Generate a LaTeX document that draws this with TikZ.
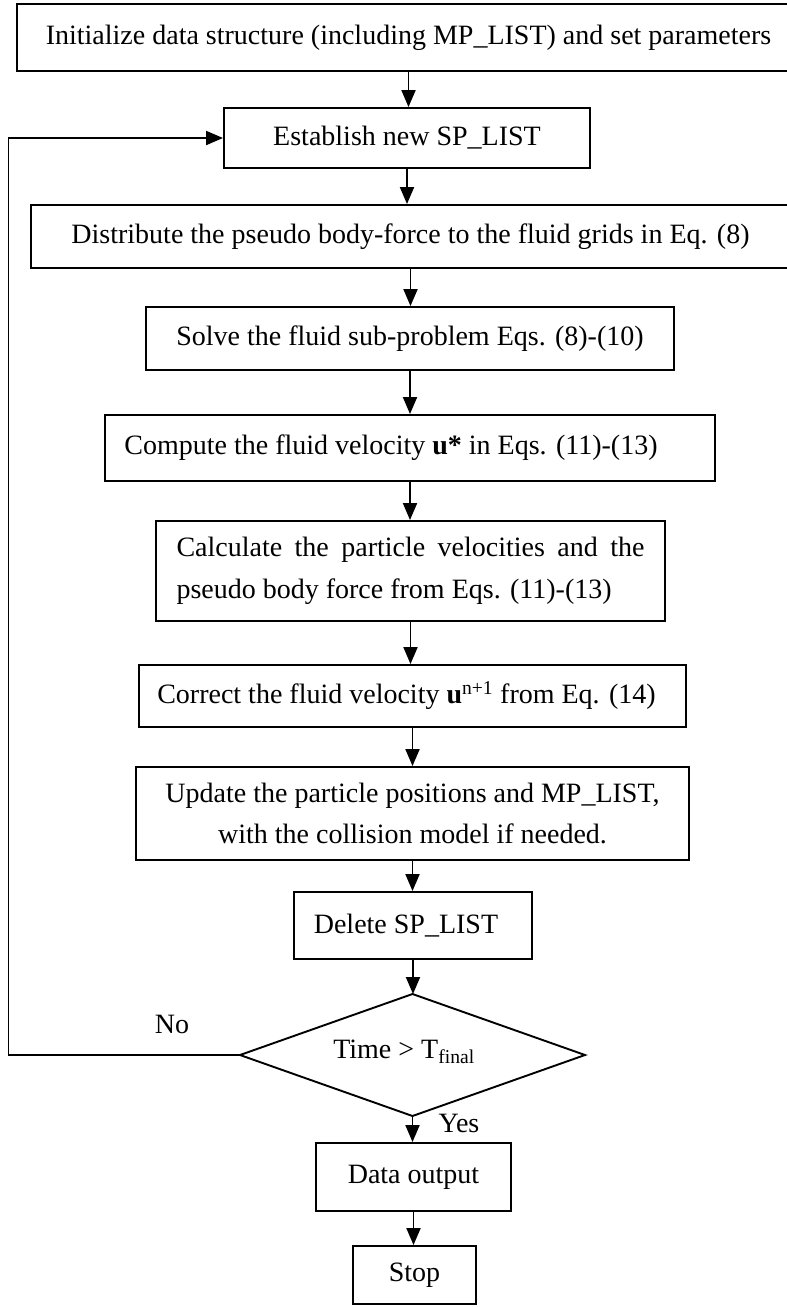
\documentclass[tikz,border=0pt]{standalone}
\usepackage{fontspec}
\setmainfont{Liberation Serif}
\usetikzlibrary{arrows.meta}
\begin{document}
\begin{tikzpicture}[x=1pt,y=-1pt,
  box/.style={draw,line width=1.9pt,rectangle,inner sep=0pt,align=center,
    font=\fontsize{28}{41.5}\selectfont},
  lbl/.style={inner sep=0pt,font=\fontsize{28}{41.5}\selectfont},
  decline/.style={line width=1.9pt,line join=miter},
  arr/.style={line width=1.9pt,-{Triangle[length=17pt,width=14pt]}}]
\useasboundingbox (0,0) rectangle (787,1307);
\node[box,minimum width=783pt,minimum height=67pt] (init) at (408.5,37.5)
  {Initialize data structure (including MP\_LIST) and set parameters};
\node[box,minimum width=366pt,minimum height=60pt] (est) at (407,138)
  {Establish new SP\_LIST};
\node[box,minimum width=759pt,minimum height=63pt] (dist) at (410.5,236.5)
  {Distribute the pseudo body-force to the fluid grids in Eq. (8)};
\node[box,minimum width=528pt,minimum height=63pt] (solve) at (410,338.5)
  {Solve the fluid sub-problem Eqs. (8)-(10)};
\node[box,minimum width=610pt,minimum height=66pt] (comp) at (410,448)
  {Compute the fluid velocity \textbf{u*} in Eqs. (11)-(13)\hspace{38pt}};
\node[box,minimum width=509pt,minimum height=100pt,text width=468pt,align=justify] (calc) at (410.5,571)
  {Calculate the particle velocities and the pseudo body force from Eqs. (11)-(13)};
\node[box,minimum width=547pt,minimum height=62pt] (corr) at (412.5,696)
  {Correct the fluid velocity \textbf{u}\textsuperscript{n+1} from Eq. (14)\hspace{12pt}};
\node[box,minimum width=553pt,minimum height=93pt] (upd) at (412.5,813.5)
  {Update the particle positions and MP\_LIST,\\with the collision model if needed.};
\node[box,minimum width=238pt,minimum height=67pt] (del) at (413,925.5)
  {Delete SP\_LIST\hspace{14pt}};
\coordinate (dt) at (412.5,994);
\coordinate (dr) at (585,1055);
\coordinate (db) at (412.5,1116);
\coordinate (dl) at (240,1055);
\draw[decline] (dt) -- (dr) -- (db) -- (dl) -- cycle;
\node[lbl] (time) at (404,1052) {Time {\textgreater} T\textsubscript{final}};
\node[box,minimum width=195pt,minimum height=68pt] (data) at (413.5,1177)
  {Data output};
\node[box,minimum width=123pt,minimum height=58pt] (stop) at (414.5,1275)
  {Stop};
\node[lbl] (no) at (172,1024) {No};
\node[lbl] (yes) at (459,1123) {Yes};
\coordinate (fb) at (8.5,1055);
\draw[arr] (init.south) -- (init.south |- est.north);
\draw[arr] (est.south) -- (est.south |- dist.north);
\draw[arr] (dist.south) -- (dist.south |- solve.north);
\draw[arr] (solve.south) -- (solve.south |- comp.north);
\draw[arr] (comp.south) -- (comp.south |- calc.north);
\draw[arr] (calc.south) -- (calc.south |- corr.north);
\draw[arr] (corr.south) -- (corr.south |- upd.north);
\draw[arr] (upd.south) -- (upd.south |- del.north);
\draw[arr] (del.south) -- (del.south |- dt);
\draw[arr] (db) -- (db |- data.north);
\draw[arr] (data.south) -- (data.south |- stop.north);
\draw[arr] (dl) -- (fb) |- (est.west);
\end{tikzpicture}
\end{document}
